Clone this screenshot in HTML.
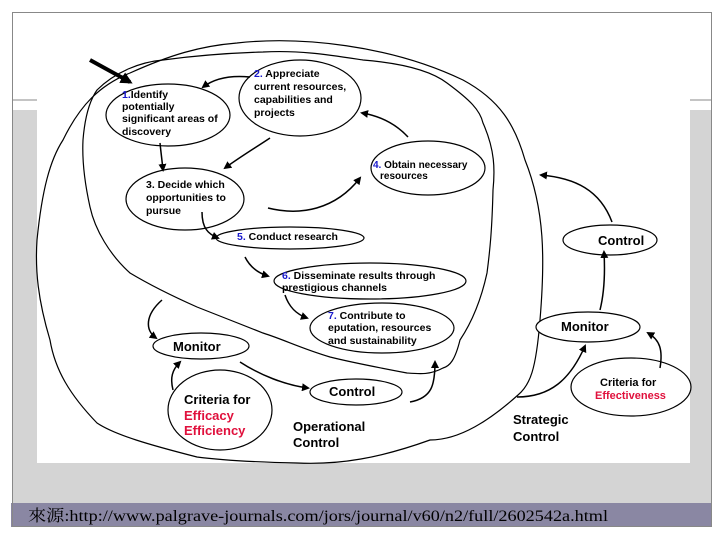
<!DOCTYPE html>
<html><head><meta charset="utf-8"><style>
html,body{margin:0;padding:0;background:#fff;}
svg{display:block;}
</style></head><body>
<svg width="720" height="540" viewBox="0 0 720 540" xmlns="http://www.w3.org/2000/svg">
<defs>
<marker id="ah" markerWidth="8" markerHeight="8" refX="6" refY="4" orient="auto" markerUnits="userSpaceOnUse"><path d="M0,0 L8,4 L0,8 Z" fill="#000"/></marker>
<marker id="ah2" markerWidth="12" markerHeight="12" refX="9" refY="6" orient="auto" markerUnits="userSpaceOnUse"><path d="M0,0 L12,6 L0,12 Z" fill="#000"/></marker>
</defs>
<rect x="0" y="0" width="720" height="540" fill="#fff"/>
<rect x="12" y="110" width="700" height="393" fill="#d4d4d4"/>
<line x1="12" y1="100" x2="40" y2="100" stroke="#888" stroke-width="1"/>
<line x1="690" y1="100" x2="712" y2="100" stroke="#888" stroke-width="1"/>
<rect x="37" y="30" width="653" height="433" fill="#fff"/>
<rect x="11" y="503" width="701" height="24" fill="#8a87a3"/>
<rect x="12.5" y="12.5" width="699" height="514" fill="none" stroke="#888" stroke-width="1"/>
<text x="28" y="521" font-family="'Liberation Serif','Noto Serif CJK SC',serif" font-size="16" fill="#000" textLength="580" lengthAdjust="spacingAndGlyphs">來源:http://www.palgrave-journals.com/jors/journal/v60/n2/full/2602542a.html</text>

<g fill="none" stroke="#000" stroke-width="1.2">
<!-- outer loop -->
<path d="M237 43 C300 36 390 45 463 80 C500 100 515 125 525 160 C545 210 545 260 540 320 C536 370 530 385 518 395 C490 420 460 440 430 440 C380 458 340 465 297 463 C250 462 220 460 197 457 C150 445 115 435 97 423 C70 395 55 370 50 340 C38 300 35 270 37 240 C42 190 50 160 63 140 C80 105 100 85 130 73 C170 55 200 46 237 43 Z"/>
<!-- inner loop -->
<path d="M263 52 C300 50 330 55 363 60 C400 63 430 70 447 83 C470 100 480 110 483 123 C495 150 495 170 493 190 C492 230 490 250 487 273 C480 305 470 325 460 340 C455 360 450 366 443 368 C430 375 420 374 407 373 C370 366 350 362 330 357 C300 348 285 340 263 333 C240 324 220 316 197 307 C170 295 150 285 130 273 C110 255 95 230 90 207 C84 180 82 160 83 140 C85 115 90 100 97 90 C115 72 140 62 163 60 C200 55 230 53 263 52 Z"/>
</g>

<g fill="#fff" stroke="#000" stroke-width="1.2">
<ellipse cx="168" cy="115" rx="62" ry="31"/>
<ellipse cx="300" cy="98" rx="61" ry="38"/>
<ellipse cx="185" cy="199" rx="59" ry="31"/>
<ellipse cx="428" cy="168" rx="57" ry="27"/>
<ellipse cx="290" cy="238" rx="74" ry="11"/>
<ellipse cx="370" cy="281" rx="96" ry="18"/>
<ellipse cx="382" cy="328" rx="72" ry="25"/>
<ellipse cx="201" cy="346" rx="48" ry="13"/>
<ellipse cx="356" cy="392" rx="46" ry="13"/>
<ellipse cx="220" cy="410" rx="52" ry="40"/>
<ellipse cx="610" cy="240" rx="47" ry="15"/>
<ellipse cx="588" cy="327" rx="52" ry="15"/>
<ellipse cx="631" cy="387" rx="60" ry="29"/>
</g>

<g fill="none" stroke="#000" stroke-width="1.5" marker-end="url(#ah)">
<path d="M250 77 C230 75 215 78 203 87"/>
<path d="M160 143 C161 153 162 160 163 170"/>
<path d="M270 138 C255 148 240 157 225 168"/>
<path d="M408 137 C395 123 380 116 362 113"/>
<path d="M268 208 C300 216 335 210 360 178"/>
<path d="M202 212 C202 228 208 234 218 238"/>
<path d="M245 257 C250 267 258 273 268 276"/>
<path d="M285 295 C289 307 296 314 307 318"/>
<path d="M162 300 C145 315 145 330 156 338"/>
<path d="M173 390 C170 378 172 370 180 362"/>
<path d="M240 362 C260 375 285 385 308 388"/>
<path d="M410 402 C432 398 435 385 435 362"/>
<path d="M517 397 C550 397 570 380 585 346"/>
<path d="M660 368 C663 350 660 340 648 333"/>
<path d="M600 310 C605 290 605 270 604 252"/>
<path d="M612 222 C600 190 575 178 541 175"/>
</g>
<path d="M90 60 L130 82" stroke="#000" stroke-width="4" fill="none" marker-end="url(#ah2)"/>

<g font-family="'Liberation Sans',Arial,sans-serif" font-weight="bold" font-size="10.5" fill="#000">
<text x="122" y="98"><tspan fill="#1a1acc">1.</tspan>Identify</text>
<text x="122" y="110">potentially</text>
<text x="122" y="122">significant areas of</text>
<text x="122" y="135">discovery</text>
<text x="254" y="77"><tspan fill="#1a1acc">2.</tspan> Appreciate</text>
<text x="254" y="90">current resources,</text>
<text x="254" y="103">capabilities and</text>
<text x="254" y="116">projects</text>
<text x="146" y="188">3. Decide which</text>
<text x="146" y="201">opportunities to</text>
<text x="146" y="214">pursue</text>
<text x="373" y="168" font-size="10"><tspan fill="#1a1acc">4.</tspan> Obtain necessary</text>
<text x="380" y="179" font-size="10">resources</text>
<text x="237" y="240"><tspan fill="#1a1acc">5.</tspan> Conduct research</text>
<text x="282" y="279"><tspan fill="#1a1acc">6.</tspan> Disseminate results through</text>
<text x="282" y="291">prestigious channels</text>
<text x="328" y="319"><tspan fill="#1a1acc">7.</tspan> Contribute to</text>
<text x="328" y="331">eputation, resources</text>
<text x="328" y="344">and sustainability</text>
</g>
<g font-family="'Liberation Sans',Arial,sans-serif" font-weight="bold" font-size="13" fill="#000">
<text x="173" y="351">Monitor</text>
<text x="329" y="396">Control</text>
<text x="184" y="404">Criteria for</text>
<text x="184" y="420" fill="#e0103c">Efficacy</text>
<text x="184" y="435" fill="#e0103c">Efficiency</text>
<text x="293" y="431">Operational</text>
<text x="293" y="447">Control</text>
<text x="513" y="424">Strategic</text>
<text x="513" y="441">Control</text>
<text x="598" y="245">Control</text>
<text x="561" y="331">Monitor</text>
</g>
<g font-family="'Liberation Sans',Arial,sans-serif" font-weight="bold" font-size="11" fill="#000">
<text x="600" y="386">Criteria for</text>
<text x="595" y="399" fill="#e0103c">Effectiveness</text>
</g>
</svg>
</body></html>
